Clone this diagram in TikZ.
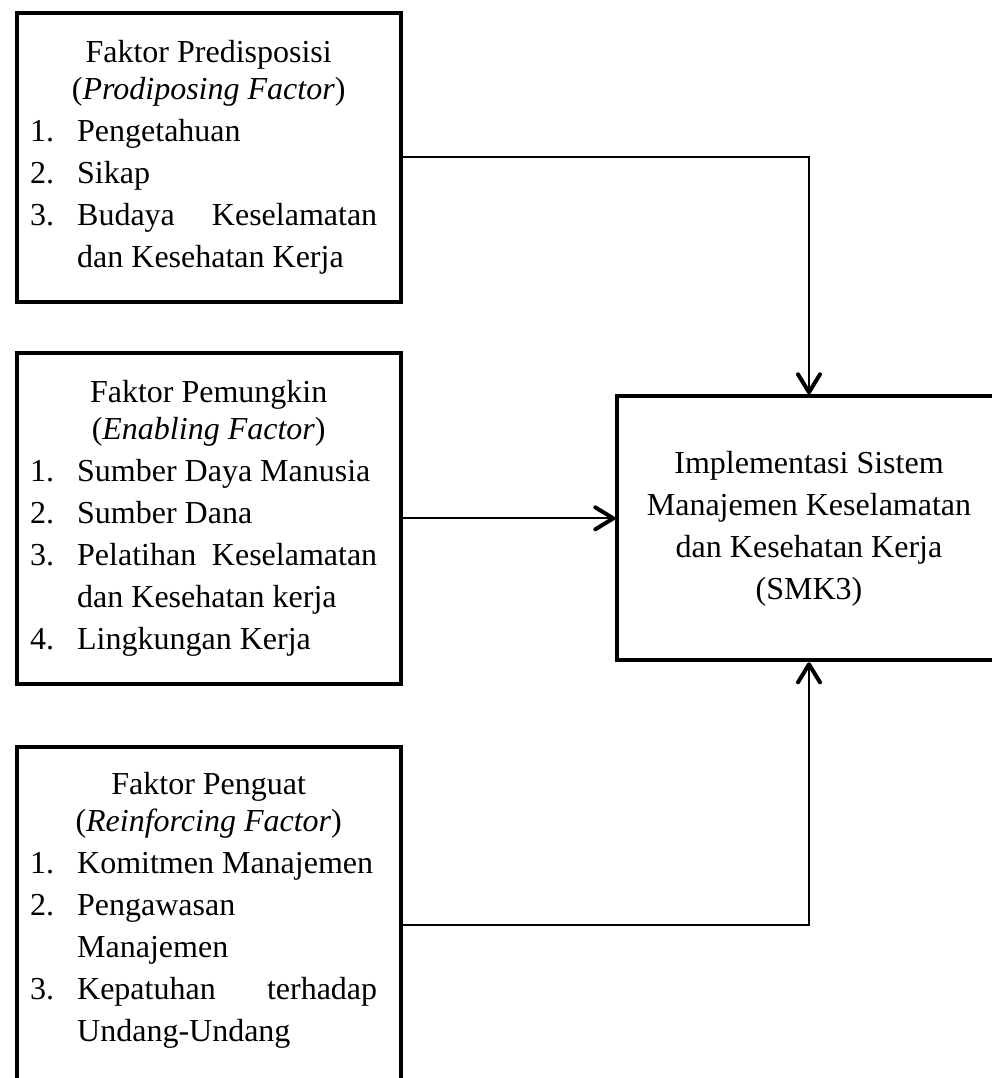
\documentclass[tikz,border=0pt]{standalone}
\usepackage{fontspec}
\setmainfont{Liberation Serif}
\usetikzlibrary{arrows.meta}

\newcommand{\faktitle}[2]{{\centering\fontsize{16pt}{18.5pt}\selectfont #1\\(\textit{#2})\par}}
\newcommand{\fakitem}[2]{\par\noindent\hangindent=23.5pt\hangafter=1\rightskip=5pt\spaceskip=0pt\makebox[23.5pt][l]{#1}#2\par}

\begin{document}
\begin{tikzpicture}[
x=0.5pt, y=-0.5pt,
faktor/.style={
draw,
line width=2pt,
anchor=north west,
inner sep=0pt,
text width=178.5pt,
align=justify,
minimum width=192pt,
font=\fontsize{16pt}{21pt}\selectfont
},
hasil/.style={
draw,
line width=2pt,
anchor=north west,
minimum width=191.7pt,
minimum height=132pt,
align=center,
font=\fontsize{16pt}{21pt}\selectfont
},
panah/.style={line width=1pt, -{Straight Barb[length=9pt,width=11pt,line width=2pt,round]}}
]
\useasboundingbox (0,0) rectangle (992,1078);
\clip (0,0) rectangle (992,1078);

\node[faktor, minimum height=144.35pt] (predis) at (14.7,11) {\faktitle{Faktor Predisposisi}{Prodiposing Factor}
\fakitem{1.}{Pengetahuan}
\fakitem{2.}{Sikap}
\fakitem{3.}{Budaya Keselamatan\linebreak dan Kesehatan Kerja}};

\node[faktor, minimum height=165.35pt] (pemungkin) at (14.7,351) {\faktitle{Faktor Pemungkin}{Enabling Factor}
\fakitem{1.}{Sumber Daya Manusia}
\fakitem{2.}{Sumber Dana}
\fakitem{3.}{Pelatihan Keselamatan\linebreak dan Kesehatan kerja}
\fakitem{4.}{Lingkungan Kerja}};

\node[faktor, minimum height=178pt] (penguat) at (14.7,745) {\faktitle{Faktor Penguat}{Reinforcing Factor}
\fakitem{1.}{Komitmen Manajemen}
\fakitem{2.}{Pengawasan\newline Manajemen}
\fakitem{3.}{Kepatuhan terhadap\linebreak Undang-Undang}\nointerlineskip\vbox to 15pt{}};

\node[hasil] (smk) at (615.3,394.3) {Implementasi Sistem\\Manajemen Keselamatan\\dan Kesehatan Kerja\\(SMK3)};

\draw[panah] (predis.east) -| (smk.north);
\draw[panah] (pemungkin.east) -- (pemungkin.east -| smk.west);
\draw[panah] (penguat.east) -| (smk.south);
\end{tikzpicture}
\end{document}
